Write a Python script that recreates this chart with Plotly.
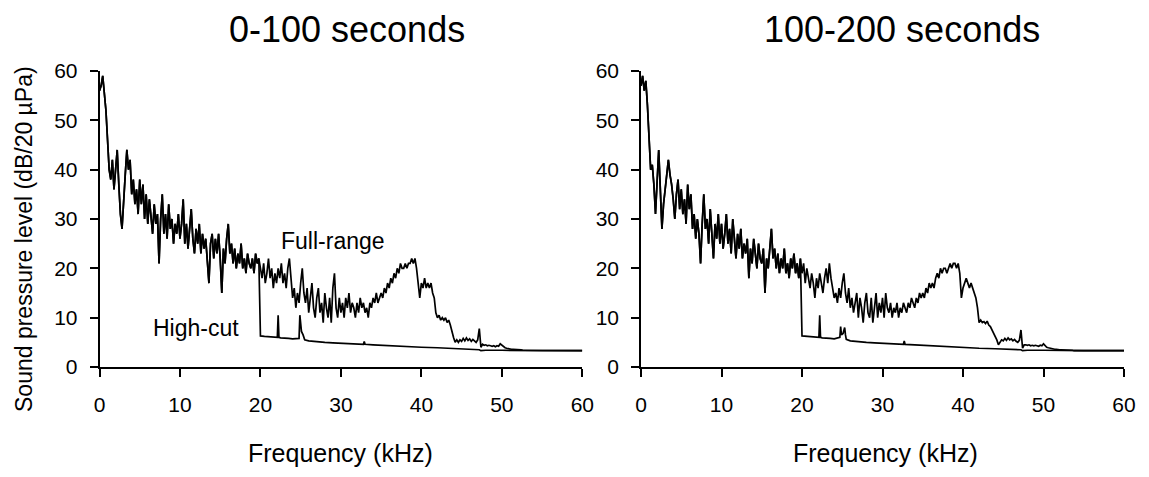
import numpy as np
import plotly.graph_objects as go

# ---------------- data ----------------
FREQ_STEP = 0.2  # kHz spacing of the spectrum bins
freq = [round(i * FREQ_STEP, 1) for i in range(301)]  # 0 .. 60 kHz

full_0_100 = [
    56, 57, 59, 55, 52, 46, 40, 38, 42, 36, 40, 44, 37, 31, 28, 35, 39, 44, 40, 42, 35, 38, 33, 36, 31,
    38, 33, 37, 30, 35, 29, 34, 31, 27, 33, 29, 31, 21, 30, 35, 27, 31, 26, 33, 28, 30, 25, 29, 27, 31,
    26, 29, 34, 25, 29, 24, 28, 32, 26, 23, 28, 25, 29, 23, 27, 24, 26, 22, 17, 25, 27, 22, 26, 23, 27,
    22, 15, 24, 21, 26, 29, 23, 25, 21, 24, 20, 23, 21, 25, 20, 22, 19, 23, 21, 20, 22, 19, 23, 21, 22,
    20, 18, 21, 17, 19, 22, 18, 20, 16, 19, 17, 20, 18, 21, 17, 19, 16, 20, 22, 18, 14, 16, 12, 15, 13,
    17, 20, 15, 13, 16, 11, 14, 17, 12, 10, 14, 16, 11, 13, 9, 15, 12, 10, 14, 9, 16, 19, 12, 10, 14,
    11, 13, 10, 14, 12, 15, 11, 13, 12, 10, 13, 11, 14, 12, 13, 11, 12, 10, 13, 12, 14, 13, 15, 13, 14,
    15, 14, 16, 15, 17, 16, 18, 17, 19, 18, 20, 19, 21, 20, 20, 21, 20, 21, 21, 22, 21, 22, 20, 17, 14,
    17, 16, 18, 16, 17, 16, 17, 15, 14, 11, 10, 10.5, 9.5, 10, 9.5, 10, 9, 9.5, 8.5, 7, 6, 5, 5.5, 5, 5.5,
    5.2, 5.8, 5.3, 5.9, 5.4, 5.7, 5.2, 5.6, 5.3, 5.0, 5.5, 7.8, 4.0, 4.6, 4.4, 4.5, 4.3, 4.4, 4.3, 4.2, 4.3, 4.1, 4.3, 4.2, 4.7,
    4.4, 4.1, 3.9, 3.8, 3.7, 3.7, 3.6, 3.6, 3.6, 3.5, 3.5, 3.5, 3.5, 3.4, 3.4, 3.4, 3.4, 3.4, 3.4, 3.4, 3.4, 3.4, 3.3, 3.3, 3.3,
    3.3, 3.3, 3.3, 3.3, 3.3, 3.3, 3.3, 3.3, 3.3, 3.3, 3.3, 3.3, 3.3, 3.3, 3.3, 3.3, 3.3, 3.3, 3.3, 3.3, 3.3, 3.3, 3.3, 3.3, 3.3,
    3.3,
]

full_100_200 = [
    57, 59, 56, 58, 53, 45, 40, 41, 37, 31, 39, 44, 36, 28, 33, 36, 39, 42, 39, 37, 34, 30, 35, 38, 32,
    36, 31, 34, 29, 37, 32, 35, 28, 31, 26, 30, 27, 21, 29, 35, 28, 30, 25, 32, 27, 22, 29, 26, 31, 25,
    29, 24, 27, 31, 25, 28, 23, 30, 26, 22, 27, 24, 28, 22, 25, 23, 26, 18, 24, 21, 26, 23, 20, 25, 22,
    21, 24, 15, 22, 20, 25, 28, 22, 24, 20, 23, 19, 22, 20, 24, 19, 21, 18, 22, 20, 23, 19, 21, 18, 22,
    19, 21, 17, 20, 18, 16, 19, 17, 14, 18, 16, 19, 17, 15, 18, 20, 17, 21, 18, 16, 14, 15, 13, 16, 14,
    17, 19, 15, 13, 16, 12, 14, 11, 13, 15, 10, 14, 12, 9, 13, 15, 11, 10, 14, 9, 12, 15, 10, 13, 11,
    14, 10, 15, 12, 11, 13, 10, 12, 11, 13, 10, 12, 11, 13, 12, 11, 13, 12, 14, 13, 12, 14, 13, 15, 14,
    15, 14, 16, 15, 17, 16, 17, 16, 18, 19, 18, 20, 19, 20, 20, 19, 20, 21, 20, 21, 21, 20, 21, 19, 14,
    16, 17, 18, 17, 16, 17, 16, 15, 14, 12, 9, 9.5, 9, 9.2, 8.8, 9.3, 8.5, 8.2, 7.5, 7, 6, 5.5, 4.5, 5, 5.5,
    5.3, 5.8, 5.4, 5.9, 5.5, 5.7, 5.3, 5.6, 5.2, 5.0, 5.4, 7.5, 3.8, 4.5, 4.5, 4.4, 4.5, 4.3, 4.4, 4.3, 4.4, 4.3, 4.2, 4.4, 4.3,
    4.7, 4.3, 4.0, 3.9, 3.8, 3.7, 3.7, 3.6, 3.6, 3.5, 3.5, 3.5, 3.5, 3.4, 3.4, 3.4, 3.4, 3.4, 3.4, 3.3, 3.3, 3.3, 3.3, 3.3, 3.3,
    3.3, 3.3, 3.3, 3.3, 3.3, 3.3, 3.3, 3.3, 3.3, 3.3, 3.3, 3.3, 3.3, 3.3, 3.3, 3.3, 3.3, 3.3, 3.3, 3.3, 3.3, 3.3, 3.3, 3.3, 3.3,
    3.3,
]

# High-cut: identical to full-range below the 20 kHz cut, then these values
HIGHCUT_START = 20.0
hc_freq_0_100 = [20.0, 20.5, 21.0, 21.5, 22.0, 22.1, 22.2, 22.3, 22.5, 23.0,
                 23.5, 24.0, 24.5, 24.8, 24.9, 25.0, 25.1, 25.3, 25.5, 26.0,
                 27, 28, 29, 30, 31, 32, 32.8, 32.9, 33.0, 34,
                 35, 36, 37, 38, 39, 40, 42, 44, 46, 47.0,
                 47.2, 47.4, 48, 50, 52, 55, 60]
hc_vals_0_100 = [6.3, 6.2, 6.1, 6.0, 6.0, 6.0, 10.5, 6.0, 5.9, 5.9,
                 5.8, 5.7, 5.8, 5.8, 10.5, 7.5, 7.2, 6.5, 5.5, 5.3,
                 5.1, 5.0, 4.9, 4.8, 4.7, 4.6, 4.6, 5.2, 4.6, 4.5,
                 4.4, 4.3, 4.2, 4.1, 4.0, 4.0, 3.9, 3.8, 3.6, 3.5,
                 3.5, 3.3, 3.4, 3.4, 3.3, 3.3, 3.3]

hc_freq_100_200 = [20.0, 20.5, 21.0, 21.5, 22.0, 22.1, 22.2, 22.3, 22.5, 23.0,
                   23.5, 24.0, 24.5, 24.7, 24.8, 24.9, 25.1, 25.3, 25.4, 25.5,
                   26, 27, 28, 29, 30, 31, 32, 32.6, 32.7, 32.8,
                   34, 35, 36, 37, 38, 39, 40, 42, 44, 46,
                   47.0, 47.2, 47.4, 48, 50, 52, 55, 60]
hc_vals_100_200 = [6.3, 6.2, 6.1, 6.0, 6.0, 6.0, 10.5, 6.0, 5.9, 5.9,
                   5.8, 5.7, 5.9, 6.0, 8.2, 6.5, 6.8, 8.0, 6.5, 5.6,
                   5.3, 5.1, 5.0, 4.9, 4.8, 4.7, 4.6, 4.6, 5.3, 4.6,
                   4.5, 4.4, 4.3, 4.2, 4.1, 4.0, 3.9, 3.8, 3.7, 3.6,
                   3.5, 3.5, 3.3, 3.4, 3.4, 3.3, 3.3, 3.3]

panel_titles = ["0-100 seconds", "100-200 seconds"]
x_title = "Frequency (kHz)"
y_title = "Sound pressure level (dB/20 µPa)"
x_ticks = [0, 10, 20, 30, 40, 50, 60]
y_ticks = [0, 10, 20, 30, 40, 50, 60]

# ---------------- figure ----------------
OFF = 8                      # page body margin of the html
W, H = 1149 - OFF, 477 - OFF
FONT = "Liberation Sans, Arial, sans-serif"
LINE_W = 1.7


def px(xp):   # page x pixel -> paper fraction
    return (xp - OFF) / W


def py(yp):   # page y pixel -> paper fraction
    return 1 - (yp - OFF) / H


def highcut_series(full, hc_f, hc_v):
    xs = [f for f in freq if f < HIGHCUT_START]
    ys = [v for f, v in zip(freq, full) if f < HIGHCUT_START]
    return xs + list(hc_f), ys + list(hc_v)


fig = go.Figure()
panels = [
    (full_0_100, hc_freq_0_100, hc_vals_0_100, "x", "y"),
    (full_100_200, hc_freq_100_200, hc_vals_100_200, "x2", "y2"),
]
for full, hf, hv, xa, ya in panels:
    hx, hy = highcut_series(full, hf, hv)
    fig.add_trace(go.Scatter(x=hx, y=hy, mode="lines", xaxis=xa, yaxis=ya,
                             line=dict(color="black", width=LINE_W), showlegend=False))
    fig.add_trace(go.Scatter(x=freq, y=full, mode="lines", xaxis=xa, yaxis=ya,
                             line=dict(color="black", width=LINE_W), showlegend=False))

axis_common = dict(
    showgrid=False, zeroline=False, showline=True, linecolor="black", linewidth=1.5,
    ticks="outside", ticklen=8, tickwidth=1.5, tickcolor="black", automargin=False,
    tickfont=dict(family=FONT, size=21, color="black"), range=[0, 60],
    tickvals=x_ticks, fixedrange=True,
)
ydom = [py(367), py(71)]
fig.update_layout(
    width=W, height=H, margin=dict(l=0, r=0, t=0, b=0, autoexpand=False),
    paper_bgcolor="white", plot_bgcolor="white",
    xaxis=dict(axis_common, domain=[px(99.5), px(582.3)], anchor="y", ticklabelstandoff=10),
    xaxis2=dict(axis_common, domain=[px(641), px(1124)], anchor="y2", ticklabelstandoff=10),
    yaxis=dict(axis_common, domain=ydom, anchor="x", tickvals=y_ticks, ticklabelstandoff=8),
    yaxis2=dict(axis_common, domain=ydom, anchor="x2", tickvals=y_ticks, ticklabelstandoff=8),
)

ann = []
# panel titles
for txt, cx in zip(panel_titles, [346.7, 902]):
    ann.append(dict(text=txt, x=px(cx), y=1.0, xref="paper", yref="paper",
                    showarrow=False, xanchor="center", yanchor="top", borderpad=0,
                    font=dict(family=FONT, size=36, color="black")))
# x axis titles
for cx in [340.5, 885]:
    ann.append(dict(text=x_title, x=px(cx), y=py(453), xref="paper", yref="paper",
                    showarrow=False, xanchor="center", yanchor="middle",
                    font=dict(family=FONT, size=25, color="black")))
# y axis title
ann.append(dict(text=y_title, x=px(24), y=py(239), xref="paper", yref="paper",
                showarrow=False, xanchor="center", yanchor="middle", textangle=-90,
                font=dict(family=FONT, size=23, color="black")))
# series labels on the left panel
ann.append(dict(text="Full-range", x=29.0, y=25.5, xref="x", yref="y", showarrow=False,
                font=dict(family=FONT, size=23, color="black")))
ann.append(dict(text="High-cut", x=12.0, y=7.9, xref="x", yref="y", showarrow=False,
                font=dict(family=FONT, size=23, color="black")))
fig.update_layout(annotations=ann)

fig.write_html("out.html")
